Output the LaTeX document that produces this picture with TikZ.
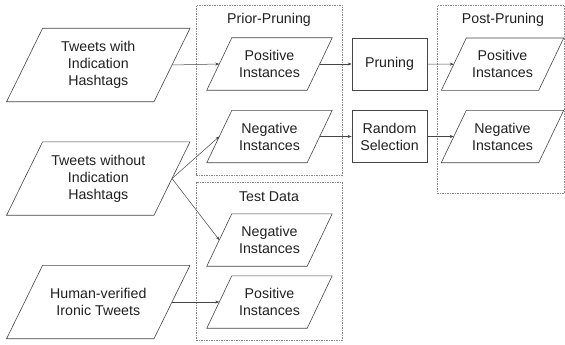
\documentclass[tikz,border=0pt]{standalone}
\usepackage{fontspec}
\setmainfont{Liberation Sans}
\usetikzlibrary{arrows.meta}
\definecolor{linec}{HTML}{454545}
\definecolor{dashc}{HTML}{8A8A8A}
\definecolor{textc}{HTML}{202020}
\begin{document}
\begin{tikzpicture}[x=1pt,y=-1pt,
  txt/.style={font=\fontsize{14.2}{17}\selectfont, text=textc, align=center, inner sep=0pt},
  bigpara/.style={txt, minimum width=147, minimum height=73},
  smallpara/.style={txt, minimum width=100, minimum height=52},
  postpara/.style={txt, minimum width=97, minimum height=52},
  procbox/.style={txt, draw=linec, line width=0.6pt, minimum width=75, minimum height=52},
  grp/.style={draw=dashc, line width=0.6pt, dash pattern=on 1.5pt off 1pt, inner sep=0pt},
  shp/.style={draw=linec, line width=0.6pt},
  arr/.style={draw=linec, line width=0.5pt, -{Stealth[length=4pt,width=3pt]}}]
\useasboundingbox (0,0) rectangle (565,345);

% group boxes
\node[grp, minimum width=146, minimum height=170] (prior) at (269,90) {};
\node[grp, minimum width=146, minimum height=158] (test) at (269,261) {};
\node[grp, minimum width=127, minimum height=188] (post) at (500.5,99) {};
\node[txt] (priorT) at (269,20) {Prior-Pruning};
\node[txt] (testT) at (269,197) {Test Data};
\node[txt] (postT) at (503,20) {Post-Pruning};

% source data
\node[bigpara] (t1) at (98.3,65) {Tweets with\\Indication\\Hashtags};
\node[bigpara] (t2) at (98.3,178.5) {Tweets without\\Indication\\Hashtags};
\node[bigpara] (t3) at (98.3,302) {Human-verified\\Ironic Tweets};

% prior-pruning
\node[smallpara] (pp) at (269.5,64) {Positive\\Instances};
\node[smallpara] (pn) at (269.5,136.5) {Negative\\Instances};
% test data
\node[smallpara] (tn) at (269.5,240) {Negative\\Instances};
\node[smallpara] (tp) at (269.5,302) {Positive\\Instances};
% processing
\node[procbox] (prune) at (389.5,64) {Pruning};
\node[procbox] (rand) at (389.5,136.5) {Random\\Selection};
% post-pruning
\node[postpara] (qp) at (502.5,64.2) {Positive\\Instances};
\node[postpara] (qn) at (502.5,136.5) {Negative\\Instances};

% parallelogram outlines
\foreach \n/\s in {t1/18,t2/18,t3/18,pp/12.5,pn/12.5,tn/12.5,tp/12.5,qp/12.5,qn/12.5}
  \draw[shp] ([xshift=-\s]\n.south west) -- ([xshift=\s]\n.north west)
    -- ([xshift=\s]\n.north east) -- ([xshift=-\s]\n.south east) -- cycle;

% connectors
\draw[arr] (t1.east) -- (pp.west);
\draw[arr] (t2.east) -- (pn.west);
\draw[arr] (t2.east) -- (tn.west);
\draw[arr] (t3.east) -- (tp.west);
\draw[arr] (pp.east) -- (prune.west);
\draw[arr] (pn.east) -- (rand.west);
\draw[arr] (prune.east) -- (qp.west);
\draw[arr] (rand.east) -- (qn.west);
\end{tikzpicture}
\end{document}
